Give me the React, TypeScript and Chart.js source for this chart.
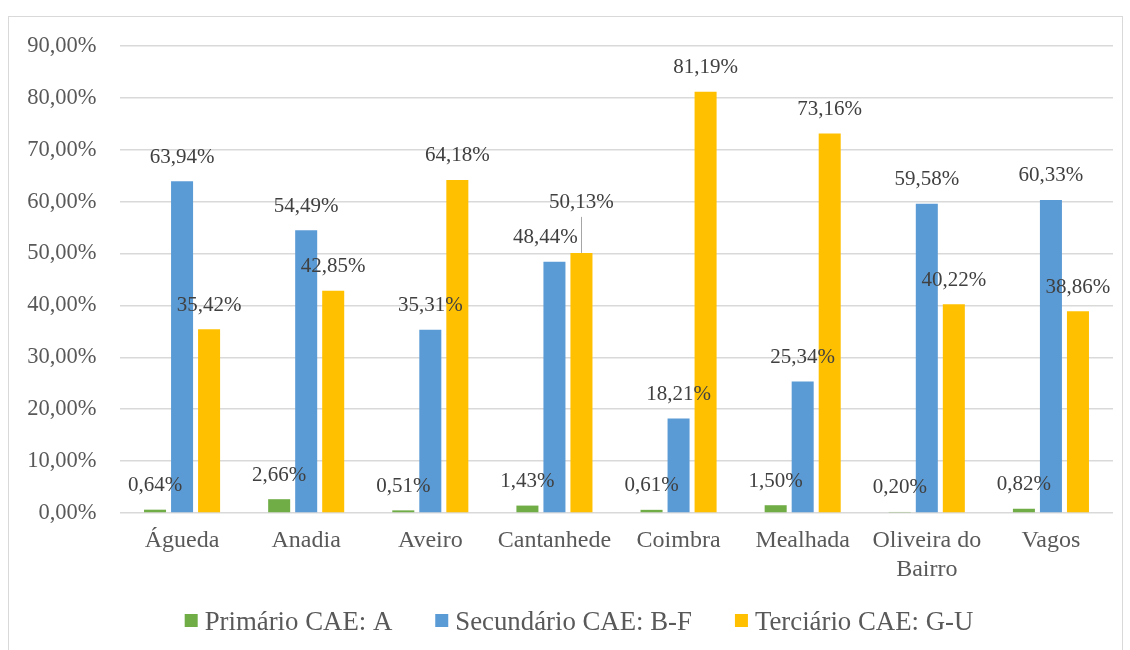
import React, { useEffect, useRef } from "react";
import { Chart, registerables } from "chart.js";

Chart.register(...registerables);

const FONT = "'Liberation Serif', 'Times New Roman', serif";

const categories: (string | string[])[] = [
  "Águeda",
  "Anadia",
  "Aveiro",
  "Cantanhede",
  "Coimbra",
  "Mealhada",
  ["Oliveira do", "Bairro"],
  "Vagos",
];
const primario = [0.64, 2.66, 0.51, 1.43, 0.61, 1.5, 0.2, 0.82];
const secundario = [63.94, 54.49, 35.31, 48.44, 18.21, 25.34, 59.58, 60.33];
const terciario = [35.42, 42.85, 64.18, 50.13, 81.19, 73.16, 40.22, 38.86];
const seriesNames = ["Primário CAE: A", "Secundário CAE: B-F", "Terciário CAE: G-U"];
const seriesColors = ["#70AD47", "#5B9BD5", "#FFC000"];
const yMin = 0;
const yMax = 90;
const yStep = 10;

// manual label nudges (dataset-index, category-index)
const labelNudges: Record<string, { dx: number; dy: number; leader?: boolean }> = {
  "1-3": { dx: -9, dy: 0 },
  "2-3": { dx: 0, dy: -26, leader: true },
};

const fmt = (v: number) => v.toFixed(2).replace(".", ",") + "%";

const dataLabelPlugin = {
  id: "dataLabels",
  afterDatasetsDraw(chart: any) {
    const ctx = chart.ctx as CanvasRenderingContext2D;
    ctx.save();
    ctx.font = `21px ${FONT}`;
    ctx.textAlign = "center";
    ctx.textBaseline = "middle";
    chart.data.datasets.forEach((ds: any, di: number) => {
      const meta = chart.getDatasetMeta(di);
      meta.data.forEach((el: any, i: number) => {
        const v = ds.data[i] as number;
        const n = labelNudges[`${di}-${i}`] || { dx: 0, dy: 0 };
        const x = el.x + n.dx;
        const y = el.y - 24 + n.dy;
        if (n.leader) {
          ctx.strokeStyle = "#A6A6A6";
          ctx.lineWidth = 1;
          ctx.beginPath();
          ctx.moveTo(Math.round(el.x) + 0.5, y + 14);
          ctx.lineTo(Math.round(el.x) + 0.5, el.y);
          ctx.stroke();
        }
        ctx.fillStyle = "#404040";
        ctx.fillText(fmt(v), x, y);
      });
    });
    ctx.restore();
  },
};

// custom legend (box, small gap, text), centred slightly right of canvas middle
const LEGEND_FONT_SIZE = 26.8;
const LEGEND_BOX = 13;
const LEGEND_BOX_GAP = 7;
const LEGEND_ITEM_GAP = 43;
const legendPlugin = {
  id: "customLegend",
  afterDraw(chart: any) {
    const ctx = chart.ctx as CanvasRenderingContext2D;
    ctx.save();
    ctx.font = `${LEGEND_FONT_SIZE}px ${FONT}`;
    ctx.textBaseline = "middle";
    ctx.textAlign = "left";
    const widths = seriesNames.map((s) => ctx.measureText(s).width);
    const total =
      widths.reduce((a, b) => a + b, 0) +
      seriesNames.length * (LEGEND_BOX + LEGEND_BOX_GAP) +
      (seriesNames.length - 1) * LEGEND_ITEM_GAP;
    const centerX = chart.width / 2 + 13.5;
    const cy = chart.height - 32.5;
    let x = centerX - total / 2;
    seriesNames.forEach((s, i) => {
      ctx.fillStyle = seriesColors[i];
      ctx.fillRect(x, cy - 2 - LEGEND_BOX / 2, LEGEND_BOX, LEGEND_BOX);
      x += LEGEND_BOX + LEGEND_BOX_GAP;
      ctx.fillStyle = "#595959";
      ctx.fillText(s, x, cy);
      x += widths[i] + LEGEND_ITEM_GAP;
    });
    ctx.restore();
  },
};

export default function App() {
  const canvasRef = useRef<HTMLCanvasElement | null>(null);

  useEffect(() => {
    if (!canvasRef.current) return;
    const chart = new Chart(canvasRef.current, {
      type: "bar",
      data: {
        labels: categories,
        datasets: [primario, secundario, terciario].map((d, i) => ({
          label: seriesNames[i],
          data: d,
          backgroundColor: seriesColors[i],
          borderWidth: 0,
          categoryPercentage: 0.653,
          barPercentage: 0.815,
        })),
      },
      options: {
        animation: false,
        responsive: true,
        maintainAspectRatio: false,
        layout: { padding: { top: 29, left: 0, right: 9, bottom: 50 } },
        plugins: {
          legend: { display: false },
          tooltip: { enabled: false },
        },
        scales: {
          x: {
            grid: { display: false, drawTicks: false },
            border: { display: false },
            ticks: {
              color: "#595959",
              padding: 13.6,
              maxRotation: 0,
              autoSkip: false,
              font: { family: FONT, size: 24, lineHeight: 1.2 },
            },
            afterFit(scale: any) {
              scale.height = 92;
              scale.paddingLeft = 0;
              scale.paddingRight = 0;
            },
          },
          y: {
            min: yMin,
            max: yMax,
            grid: { color: "#D9D9D9", lineWidth: 1.5, drawTicks: false },
            border: { display: false },
            ticks: {
              stepSize: yStep,
              color: "#595959",
              padding: 23.5,
              font: { family: FONT, size: 22.5 },
              callback: (v: any) => fmt(Number(v)),
            },
            afterFit(scale: any) {
              scale.width = 111;
              scale.paddingTop = 0;
              scale.paddingBottom = 0;
            },
          },
        },
      },
      plugins: [dataLabelPlugin, legendPlugin],
    });
    return () => chart.destroy();
  }, []);

  return (
    <div
      style={{
        position: "absolute",
        left: 8,
        top: 16,
        width: 1115,
        height: 640,
        border: "1px solid #D9D9D9",
        boxSizing: "border-box",
        background: "#fff",
      }}
    >
      <div style={{ position: "relative", width: "100%", height: "100%" }}>
        <canvas ref={canvasRef} />
      </div>
    </div>
  );
}
